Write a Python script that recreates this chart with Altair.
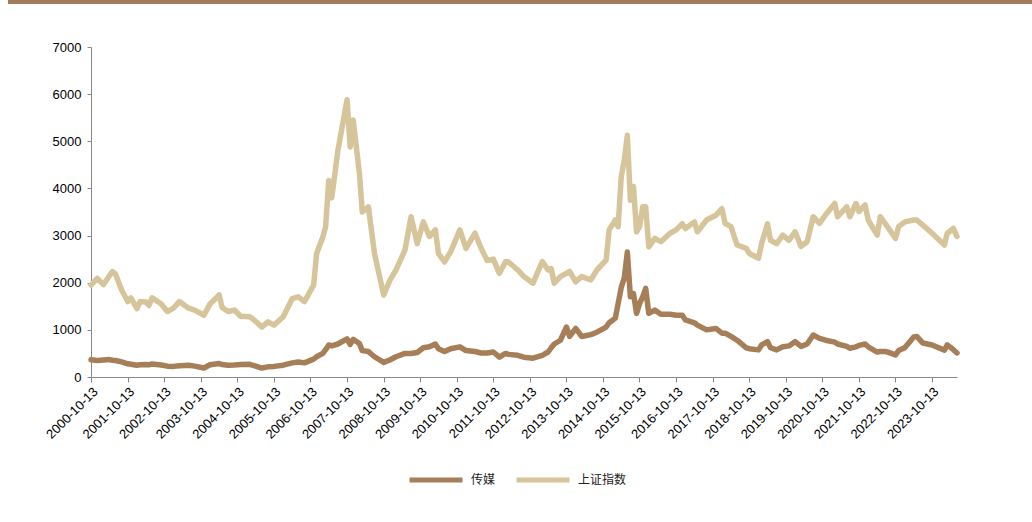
import altair as alt
import pandas as pd

dates = [
    "2000-10-13", "2000-12-15", "2001-02-15", "2001-04-15", "2001-05-15", "2001-06-15", "2001-08-15",
    "2001-10-15", "2001-11-15", "2002-01-15", "2002-02-15", "2002-04-15", "2002-05-15", "2002-06-15",
    "2002-09-15", "2002-11-15", "2003-01-15", "2003-03-15", "2003-06-15", "2003-08-15", "2003-11-15",
    "2004-01-15", "2004-04-15", "2004-05-15", "2004-07-15", "2004-09-15", "2004-11-15", "2005-02-15",
    "2005-04-15", "2005-06-15", "2005-08-15", "2005-10-15", "2006-01-15", "2006-04-15", "2006-06-15",
    "2006-08-15", "2006-11-15", "2006-12-15", "2007-02-15", "2007-03-15", "2007-04-15", "2007-05-15",
    "2007-07-15", "2007-10-15", "2007-11-15", "2007-12-15", "2008-02-15", "2008-03-15", "2008-05-15",
    "2008-07-15", "2008-10-15", "2008-12-15", "2009-02-15", "2009-05-15", "2009-07-15", "2009-09-15",
    "2009-11-15", "2010-01-15", "2010-03-15", "2010-04-15", "2010-06-15", "2010-08-15", "2010-11-15",
    "2011-01-15", "2011-04-15", "2011-06-15", "2011-08-15", "2011-10-15", "2011-12-15", "2012-02-15",
    "2012-03-15", "2012-06-15", "2012-08-15", "2012-11-15", "2013-02-15", "2013-04-15", "2013-05-15",
    "2013-06-15", "2013-08-15", "2013-10-15", "2013-11-15", "2014-01-15", "2014-03-15", "2014-06-15",
    "2014-08-15", "2014-11-15", "2014-12-15", "2015-02-15", "2015-03-15", "2015-04-15", "2015-05-15",
    "2015-06-15", "2015-07-15", "2015-08-15", "2015-09-15", "2015-10-15", "2015-11-15", "2015-12-15",
    "2016-01-15", "2016-03-15", "2016-05-15", "2016-08-15", "2016-10-15", "2016-12-15", "2017-01-15",
    "2017-04-15", "2017-05-15", "2017-08-15", "2017-11-15", "2018-01-15", "2018-02-15", "2018-04-15",
    "2018-06-15", "2018-09-15", "2018-10-15", "2019-01-15", "2019-02-15", "2019-04-15", "2019-05-15",
    "2019-07-15", "2019-09-15", "2019-11-15", "2020-01-15", "2020-03-15", "2020-05-15", "2020-07-15",
    "2020-09-15", "2020-11-15", "2021-02-15", "2021-03-15", "2021-06-15", "2021-07-15", "2021-09-15",
    "2021-10-15", "2021-12-15", "2022-01-15", "2022-04-15", "2022-05-15", "2022-07-15", "2022-10-15",
    "2022-11-15", "2023-01-15", "2023-04-15", "2023-05-15", "2023-07-15", "2023-10-15", "2024-02-15",
    "2024-03-15", "2024-05-15", "2024-06-20",
]

shanghai = [
    1950, 2090, 1960, 2150, 2235, 2180, 1845,
    1600, 1680, 1450, 1600, 1590, 1520, 1680,
    1550, 1390, 1460, 1600, 1460, 1420, 1310,
    1550, 1740, 1470, 1390, 1420, 1290, 1280,
    1180, 1060, 1170, 1100, 1280, 1660, 1700,
    1600, 1950, 2620, 2970, 3190, 4170, 3800,
    4800, 5880, 4880, 5450, 4330, 3500, 3610,
    2620, 1740, 2050, 2270, 2690, 3400, 2830,
    3290, 2980, 3120, 2620, 2440, 2660, 3120,
    2730, 3050, 2730, 2470, 2500, 2200, 2450,
    2440, 2270, 2130, 1990, 2450, 2270, 2300,
    1990, 2130, 2200, 2240, 2020, 2130, 2060,
    2270, 2480, 3120, 3330, 3190, 4250, 4600,
    5130, 3750, 4040, 3080, 3190, 3610, 3610,
    2760, 2940, 2870, 3050, 3120, 3250, 3150,
    3290, 3080, 3330, 3430, 3570, 3260, 3190,
    2800, 2730, 2620, 2520, 2830, 3250, 2900,
    2830, 3010, 2900, 3080, 2770, 2870, 3400,
    3260, 3440, 3680, 3400, 3610, 3400, 3680,
    3510, 3650, 3330, 3010, 3400, 3220, 2940,
    3190, 3290, 3330, 3330, 3220, 3050, 2800,
    3050, 3150, 2980,
]

media = [
    365, 350, 360, 370, 355, 350, 320,
    280, 270, 250, 260, 265, 260, 275,
    255, 230, 225, 240, 250, 230, 190,
    260, 285, 265, 250, 255, 265, 270,
    230, 190, 215, 225, 250, 300, 320,
    300, 380, 430, 500, 580, 680, 660,
    700, 810, 690, 800, 710, 560, 540,
    430, 310, 360, 430, 500, 500, 520,
    620, 640, 700, 600, 540, 600, 640,
    560, 540, 510, 510, 530, 420, 500,
    480, 460, 420, 400, 460, 530, 620,
    700, 780, 1060, 860, 1030, 860, 900,
    950, 1060, 1150, 1250, 1560, 1900, 2100,
    2650, 1700, 1770, 1350, 1560, 1700, 1880,
    1350, 1420, 1330, 1330, 1310, 1310, 1210,
    1150, 1100, 1000, 1030, 930, 930, 860,
    780, 620, 600, 575, 680, 750, 620,
    575, 640, 660, 750, 650, 700, 890,
    820, 780, 740, 700, 650, 610, 640,
    670, 700, 640, 530, 540, 540, 470,
    560, 620, 850, 860, 720, 680, 570,
    680, 580, 510,
]

series_names = ["传媒", "上证指数"]
series_colors = ["#A67F59", "#D6C49B"]
tick_years = list(range(2000, 2024))

rows = []
for d, v in zip(dates, media):
    rows.append({"date": d + "T00:00:00", "value": v, "series": series_names[0]})
for d, v in zip(dates, shanghai):
    rows.append({"date": d + "T00:00:00", "value": v, "series": series_names[1]})
df = pd.DataFrame(rows)

tick_values = [alt.DateTime(year=y, month=10, date=13) for y in tick_years]

lines = alt.Chart(df).mark_line(strokeWidth=5.5, strokeJoin="round", strokeCap="round").encode(
    x=alt.X(
        "date:T",
        scale=alt.Scale(domain=[alt.DateTime(year=2000, month=10, date=13),
                                alt.DateTime(year=2024, month=6, date=20)]),
        axis=alt.Axis(
            values=tick_values, format="%Y-%m-%d", labelAngle=-45, title=None,
            grid=False, domainColor="#888888", tickColor="#888888", tickSize=5,
            labelFont="Liberation Sans", labelFontSize=13, labelColor="#000000",
            labelAlign="right", labelBaseline="top", labelOverlap=False, labelPadding=3,
        ),
    ),
    y=alt.Y(
        "value:Q",
        scale=alt.Scale(domain=[0, 7000], nice=False),
        axis=alt.Axis(
            values=list(range(0, 7001, 1000)), format="d", title=None, grid=False,
            domainColor="#888888", tickColor="#888888", tickSize=4,
            labelFont="Liberation Sans", labelFontSize=13, labelColor="#000000", labelPadding=6,
        ),
    ),
    color=alt.Color(
        "series:N",
        scale=alt.Scale(domain=series_names, range=series_colors),
        sort=series_names,
        legend=alt.Legend(
            orient="none", legendX=316, legendY=404, direction="horizontal", title=None,
            symbolType="stroke", symbolStrokeWidth=5, symbolSize=2800,
            labelFont="Noto Sans CJK SC", labelFontSize=12, labelColor="#222222",
            columnPadding=10, labelOffset=6,
        ),
    ),
    detail="series:N",
)

top_bar = alt.Chart(pd.DataFrame({"k": [0]})).mark_rule(color="#A07B5C", strokeWidth=4).encode(
    x=alt.value(-83), x2=alt.value(941), y=alt.value(-45)
)

chart = alt.layer(top_bar, lines).properties(
    width=866, height=330,
    autosize=alt.AutoSizeParams(type="none"),
    padding={"left": 91, "top": 47, "right": 75, "bottom": 145},
).configure(background="#ffffff", view=alt.ViewConfig(stroke="transparent", strokeWidth=0))

chart.save("out.html", embed_options={"renderer": "svg", "actions": False})
